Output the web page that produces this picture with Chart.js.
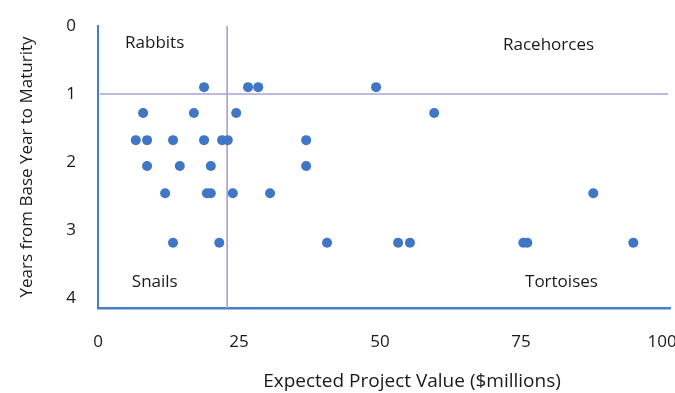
<!DOCTYPE html>
<html>
<head>
<meta charset="utf-8">
<script src="https://cdn.jsdelivr.net/npm/chart.js@4/dist/chart.umd.min.js"></script>
<style>
  html, body { margin: 0; padding: 0; background: #ffffff; }
  #wrap { width: 675px; height: 393px; }
</style>
</head>
<body>
<div id="wrap"><canvas id="chart" width="675" height="393"></canvas></div>
<script>
// Project portfolio: expected value vs. years to maturity
const projectValue = [
  18.8, 26.6, 28.4, 49.3,
  8.0, 17.0, 24.5, 59.6,
  6.7, 8.7, 13.3, 18.8, 22.0, 23.0, 36.9,
  8.7, 14.5, 20.0, 36.9,
  11.9, 19.3, 20.0, 23.9, 30.5, 87.8,
  13.3, 21.5, 40.6, 53.2, 55.3, 75.4, 76.1, 94.9
];
const yearsToMaturity = [
  0.90, 0.90, 0.90, 0.90,
  1.28, 1.28, 1.28, 1.28,
  1.68, 1.68, 1.68, 1.68, 1.68, 1.68, 1.68,
  2.06, 2.06, 2.06, 2.06,
  2.46, 2.46, 2.46, 2.46, 2.46, 2.46,
  3.19, 3.19, 3.19, 3.19, 3.19, 3.19, 3.19, 3.19
];
const xTickValues = [0, 25, 50, 75, 100];
const yTickValues = [0, 1, 2, 3, 4];

// Quadrant split: value threshold and maturity threshold
const valueThreshold = 22.9;
const maturityThreshold = 1;

// Quadrant names, anchored in data coordinates (left edge, vertical middle)
const quadrantNames = ['Rabbits', 'Racehorces', 'Snails', 'Tortoises'];
const quadrantX = [4.8, 71.8, 6.0, 75.7];
const quadrantY = [0.25, 0.28, 3.77, 3.77];

const X_MAX = 101.4;
const Y_MAX = 4.15;
const FONT = '"Open Sans", sans-serif';
const TEXT = '#1a1a1a';
const DOT = '#3f76c6';
const AXIS = '#4a7ec8';
const SPLIT = '#a9a3d4';

const points = projectValue.map((v, i) => ({ x: v, y: yearsToMaturity[i] }));

const quadrantLabels = {
  id: 'quadrantLabels',
  afterDatasetsDraw(chart) {
    const { ctx, scales: { x, y }, chartArea } = chart;
    ctx.save();
    ctx.fillStyle = TEXT;
    ctx.font = '17px ' + FONT;
    ctx.textAlign = 'left';
    ctx.textBaseline = 'middle';
    quadrantNames.forEach((name, i) => {
      ctx.fillText(name, x.getPixelForValue(quadrantX[i]), y.getPixelForValue(quadrantY[i]));
    });
    // x-axis title
    ctx.font = '19px ' + FONT;
    ctx.textAlign = 'center';
    ctx.fillText('Expected Project Value ($millions)', (chartArea.left + chartArea.right) / 2 + 28, 382);
    ctx.restore();
  }
};

new Chart(document.getElementById('chart'), {
  type: 'scatter',
  data: {
    datasets: [
      {
        data: points,
        backgroundColor: DOT,
        borderColor: DOT,
        pointRadius: 5,
        pointBorderWidth: 0,
        order: 0
      },
      {
        type: 'line',
        data: [{ x: valueThreshold, y: 0 }, { x: valueThreshold, y: Y_MAX }],
        borderColor: SPLIT,
        borderWidth: 1,
        pointRadius: 0,
        order: 1
      },
      {
        type: 'line',
        data: [{ x: 0.3, y: maturityThreshold }, { x: X_MAX - 0.3, y: maturityThreshold }],
        borderColor: SPLIT,
        borderWidth: 1.5,
        pointRadius: 0,
        order: 1
      }
    ]
  },
  options: {
    responsive: false,
    animation: false,
    events: [],
    layout: { padding: { top: 26, right: 5, left: 0, bottom: 0 } },
    plugins: { legend: { display: false }, tooltip: { enabled: false } },
    scales: {
      x: {
        type: 'linear',
        min: 0,
        max: X_MAX,
        afterBuildTicks: s => { s.ticks = xTickValues.map(v => ({ value: v })); },
        afterFit: s => { s.height = 85; s.paddingLeft = 0; s.paddingRight = 0; },
        grid: { display: false, drawTicks: false },
        border: { display: true, color: AXIS, width: 2.5 },
        ticks: { padding: 24, color: TEXT, font: { family: FONT, size: 17 } },
        title: { display: false }
      },
      y: {
        type: 'linear',
        reverse: true,
        min: 0,
        max: Y_MAX,
        afterBuildTicks: s => { s.ticks = yTickValues.map(v => ({ value: v })); },
        afterFit: s => { s.width = 98; s.paddingTop = 0; s.paddingBottom = 0; },
        grid: { display: false, drawTicks: false },
        border: { display: true, color: AXIS, width: 2 },
        ticks: { padding: 22, color: TEXT, font: { family: FONT, size: 17 } },
        title: {
          display: true,
          text: 'Years from Base Year to Maturity',
          color: TEXT,
          font: { family: FONT, size: 17 },
          padding: { top: 17, bottom: 0 }
        }
      }
    }
  },
  plugins: [quadrantLabels]
});
</script>
</body>
</html>
